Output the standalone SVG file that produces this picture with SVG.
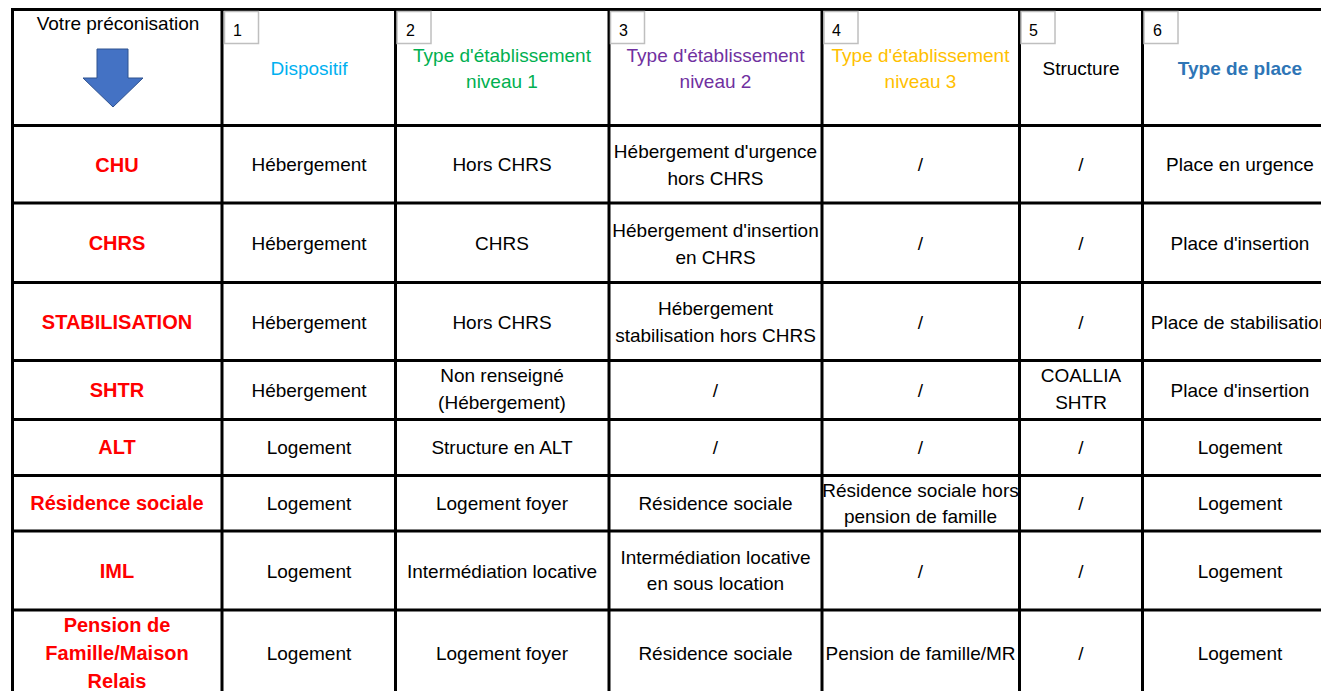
<svg xmlns="http://www.w3.org/2000/svg" width="1321" height="691" viewBox="0 0 1321 691">
<style>
text{font-family:"Liberation Sans",Arial,sans-serif;font-size:19px;fill:#000;text-anchor:middle}
.lbl{font-weight:bold;font-size:20px;fill:#FF0000}
.num{font-size:16px;text-anchor:start}
.nbox{fill:#fff;stroke:#BFBFBF;stroke-width:1.5}
.grid line{stroke:#000;stroke-width:3}
.c1{fill:#00B0F0}.c2{fill:#00B050}.c3{fill:#7030A0}.c4{fill:#FFC000}.c6{fill:#2E75B6;font-weight:bold}
</style>
<rect x="0" y="0" width="1321" height="691" fill="#fff"/>
<g id="grid" class="grid">
<line x1="11" y1="9.5" x2="1321" y2="9.5"/>
<line x1="11" y1="125.5" x2="1321" y2="125.5"/>
<line x1="11" y1="203" x2="1321" y2="203"/>
<line x1="11" y1="282.5" x2="1321" y2="282.5"/>
<line x1="11" y1="360.5" x2="1321" y2="360.5"/>
<line x1="11" y1="419.5" x2="1321" y2="419.5"/>
<line x1="11" y1="475.5" x2="1321" y2="475.5"/>
<line x1="11" y1="531" x2="1321" y2="531"/>
<line x1="11" y1="610" x2="1321" y2="610"/>
<line x1="12.5" y1="8" x2="12.5" y2="691"/>
<line x1="222" y1="8" x2="222" y2="691"/>
<line x1="395.5" y1="8" x2="395.5" y2="691"/>
<line x1="609" y1="8" x2="609" y2="691"/>
<line x1="822" y1="8" x2="822" y2="691"/>
<line x1="1019.5" y1="8" x2="1019.5" y2="691"/>
<line x1="1142.5" y1="8" x2="1142.5" y2="691"/>
</g>
<g id="header">
<text x="118" y="30">Votre préconisation</text>
<path d="M97,49 H128 V78 H143 L113,107 L83,78 H97 Z" fill="#4472C4" stroke="#2F528F" stroke-width="1"/>
<rect class="nbox" x="224.5" y="11.5" width="34" height="32"/><text class="num" x="233" y="36">1</text>
<rect class="nbox" x="397" y="11.5" width="34" height="32"/><text class="num" x="406" y="36">2</text>
<rect class="nbox" x="610.5" y="11.5" width="34" height="32"/><text class="num" x="619" y="36">3</text>
<rect class="nbox" x="824" y="11.5" width="34" height="32"/><text class="num" x="832" y="36">4</text>
<rect class="nbox" x="1021" y="11.5" width="34" height="32"/><text class="num" x="1029" y="36">5</text>
<rect class="nbox" x="1144" y="11.5" width="34" height="32"/><text class="num" x="1153" y="36">6</text>
<text class="c1" x="309" y="75">Dispositif</text>
<text class="c2" x="502" y="61.5">Type d'établissement</text><text class="c2" x="502" y="87.5">niveau 1</text>
<text class="c3" x="715.5" y="61.5">Type d'établissement</text><text class="c3" x="715.5" y="87.5">niveau 2</text>
<text class="c4" x="920.5" y="61.5">Type d'établissement</text><text class="c4" x="920.5" y="87.5">niveau 3</text>
<text x="1081" y="75">Structure</text>
<text class="c6" x="1240" y="75">Type de place</text>
</g>
<g id="row-chu">
<text class="lbl" x="117" y="172">CHU</text>
<text x="309" y="171">Hébergement</text>
<text x="502" y="171">Hors CHRS</text>
<text x="715.5" y="158">Hébergement d'urgence</text><text x="715.5" y="184.5">hors CHRS</text>
<text x="920.5" y="171">/</text>
<text x="1081" y="171">/</text>
<text x="1240" y="171">Place en urgence</text>
</g>
<g id="row-chrs">
<text class="lbl" x="117" y="250">CHRS</text>
<text x="309" y="250">Hébergement</text>
<text x="502" y="250">CHRS</text>
<text x="715.5" y="237">Hébergement d'insertion</text><text x="715.5" y="263.5">en CHRS</text>
<text x="920.5" y="250">/</text>
<text x="1081" y="250">/</text>
<text x="1240" y="250">Place d'insertion</text>
</g>
<g id="row-stabilisation">
<text class="lbl" x="117" y="329">STABILISATION</text>
<text x="309" y="328.5">Hébergement</text>
<text x="502" y="328.5">Hors CHRS</text>
<text x="715.5" y="315">Hébergement</text><text x="715.5" y="341.5">stabilisation hors CHRS</text>
<text x="920.5" y="328.5">/</text>
<text x="1081" y="328.5">/</text>
<text x="1240" y="328.5">Place de stabilisation</text>
</g>
<g id="row-shtr">
<text class="lbl" x="117" y="397">SHTR</text>
<text x="309" y="397">Hébergement</text>
<text x="502" y="382">Non renseigné</text><text x="502" y="408.5">(Hébergement)</text>
<text x="715.5" y="397">/</text>
<text x="920.5" y="397">/</text>
<text x="1081" y="382">COALLIA</text><text x="1081" y="408.5">SHTR</text>
<text x="1240" y="397">Place d'insertion</text>
</g>
<g id="row-alt">
<text class="lbl" x="117" y="454">ALT</text>
<text x="309" y="454">Logement</text>
<text x="502" y="454">Structure en ALT</text>
<text x="715.5" y="454">/</text>
<text x="920.5" y="454">/</text>
<text x="1081" y="454">/</text>
<text x="1240" y="454">Logement</text>
</g>
<g id="row-residence-sociale">
<text class="lbl" x="117" y="510">Résidence sociale</text>
<text x="309" y="510">Logement</text>
<text x="502" y="510">Logement foyer</text>
<text x="715.5" y="510">Résidence sociale</text>
<text x="920.5" y="497">Résidence sociale hors</text><text x="920.5" y="523">pension de famille</text>
<text x="1081" y="510">/</text>
<text x="1240" y="510">Logement</text>
</g>
<g id="row-iml">
<text class="lbl" x="117" y="578">IML</text>
<text x="309" y="578">Logement</text>
<text x="502" y="578">Intermédiation locative</text>
<text x="715.5" y="564">Intermédiation locative</text><text x="715.5" y="590">en sous location</text>
<text x="920.5" y="578">/</text>
<text x="1081" y="578">/</text>
<text x="1240" y="578">Logement</text>
</g>
<g id="row-pension-de-famille">
<text class="lbl" x="117" y="632">Pension de</text>
<text class="lbl" x="117" y="660">Famille/Maison</text>
<text class="lbl" x="117" y="688">Relais</text>
<text x="309" y="659.5">Logement</text>
<text x="502" y="659.5">Logement foyer</text>
<text x="715.5" y="659.5">Résidence sociale</text>
<text x="920.5" y="659.5">Pension de famille/MR</text>
<text x="1081" y="659.5">/</text>
<text x="1240" y="659.5">Logement</text>
</g>
</svg>
